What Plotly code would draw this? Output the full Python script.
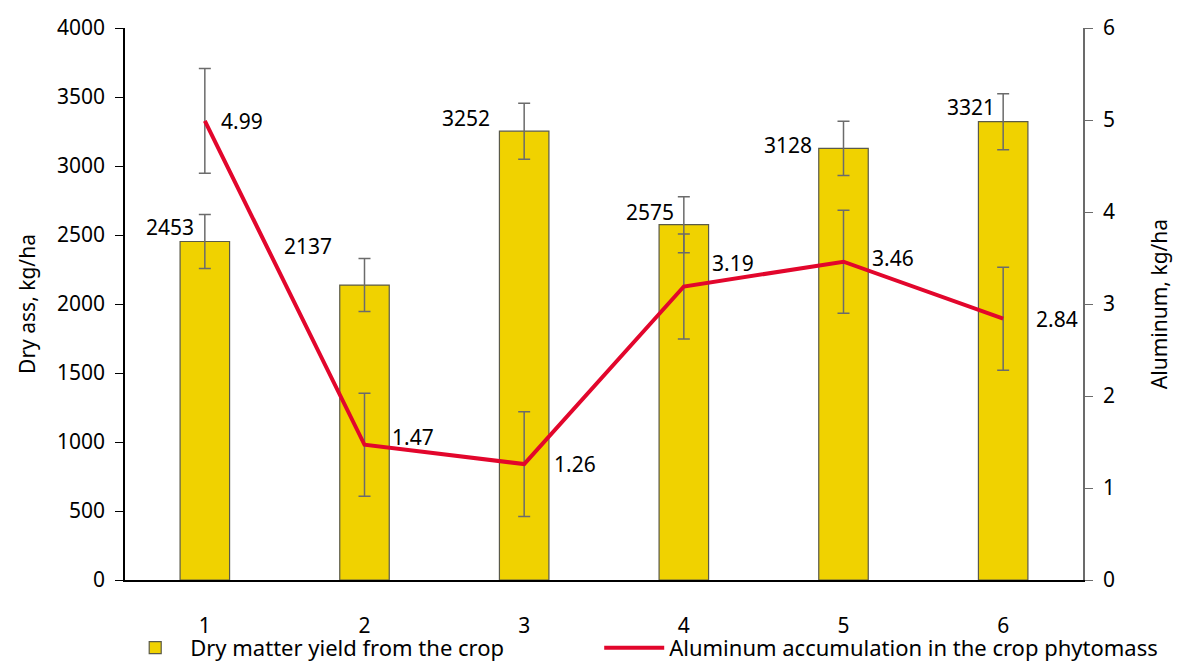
import plotly.graph_objects as go

categories = [1, 2, 3, 4, 5, 6]
dry_matter = [2453, 2137, 3252, 2575, 3128, 3321]
dry_matter_err = [195, 192, 203, 203, 196, 203]
aluminum = [4.99, 1.47, 1.26, 3.19, 3.46, 2.84]
aluminum_err = [0.57, 0.56, 0.57, 0.57, 0.56, 0.56]

left_ticks = [0, 500, 1000, 1500, 2000, 2500, 3000, 3500, 4000]
right_ticks = [0, 1, 2, 3, 4, 5, 6]

# label offsets (pixels) - styling only
bar_lbl_dx = [-9, -31, -32, -8, -30, -6]
bar_lbl_dy = [-2, 23, -3, -3, -13, -1]
al_lbl_dx = [14, 25, 28, 26, 26, 31]
al_lbl_dy = [0, 8, 0, 24, 4, 0]

FONT = "Noto Sans, Open Sans, DejaVu Sans, sans-serif"
RED = "#E2062C"
YELLOW = "#F0D200"
GRAY = "#6b6b6b"
FS = 21

fig = go.Figure()
fig.add_trace(go.Bar(
    x=categories, y=dry_matter, width=0.31,
    name="Dry matter yield from the crop",
    marker=dict(color=YELLOW, line=dict(color="#5a5a4a", width=1.2)),
    error_y=dict(type="data", array=dry_matter_err, color=GRAY, thickness=1.5, width=6),
    yaxis="y", legend="legend",
))
fig.add_trace(go.Scatter(
    x=categories, y=aluminum, mode="lines",
    name="Aluminum accumulation in the crop phytomass",
    line=dict(color=RED, width=4),
    error_y=dict(type="data", array=aluminum_err, color=GRAY, thickness=1.5, width=6),
    yaxis="y2", legend="legend2",
))

annotations = []
for c, v, dx, dy in zip(categories, dry_matter, bar_lbl_dx, bar_lbl_dy):
    annotations.append(dict(x=c, y=v, xref="x", yref="y", text=str(v), showarrow=False,
                            xanchor="right", yanchor="bottom", xshift=dx, yshift=dy,
                            font=dict(size=FS, color="black", family=FONT)))
for c, v, dx, dy in zip(categories, aluminum, al_lbl_dx, al_lbl_dy):
    annotations.append(dict(x=c, y=v, xref="x", yref="y2", text=f"{v:.2f}", showarrow=False,
                            xanchor="left", yanchor="middle", xshift=dx, yshift=dy,
                            font=dict(size=FS, color="black", family=FONT)))

leg_common = dict(orientation="h", yanchor="middle", font=dict(size=22),
                  itemwidth=60, bgcolor="rgba(0,0,0,0)", borderwidth=0)

fig.update_layout(
    width=1186, height=661,
    margin=dict(l=117, r=111, t=20, b=89, autoexpand=False),
    paper_bgcolor="white", plot_bgcolor="white",
    font=dict(family=FONT, size=FS, color="black"),
    showlegend=True,
    legend=dict(x=-0.005, y=-0.123, xanchor="left", **leg_common),
    legend2=dict(x=0.495, y=-0.123, xanchor="left", **leg_common),
    xaxis=dict(range=[0.5, 6.5], tickvals=categories, ticktext=[str(c) for c in categories],
               showline=True, linecolor="black", linewidth=1.5, ticks="",
               showgrid=False, zeroline=False, ticklabelstandoff=26),
    yaxis=dict(range=[0, 4000], tickvals=left_ticks, showline=True, linecolor="black",
               linewidth=1.5, ticks="outside", ticklen=8, tickcolor="black",
               showgrid=False, zeroline=False, ticklabelstandoff=6,
               title=dict(text="Dry ass, kg/ha", standoff=16, font=dict(size=FS))),
    yaxis2=dict(range=[0, 6], tickvals=right_ticks, overlaying="y", side="right",
                showline=True, linecolor=GRAY, linewidth=1.5, ticks="outside", ticklen=8,
                tickcolor=GRAY, showgrid=False, zeroline=False, ticklabelstandoff=6,
                title=dict(text="Aluminum, kg/ha", standoff=38, font=dict(size=FS))),
    annotations=annotations,
)

fig.write_html("out.html")
